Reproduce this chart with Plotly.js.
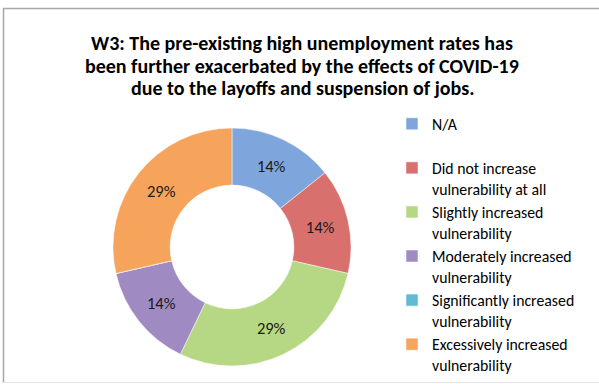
<!DOCTYPE html>
<html>
<head>
<meta charset="utf-8">
<script src="https://cdn.plot.ly/plotly-3.0.1.min.js"></script>
<style>
html,body{margin:0;padding:0;background:#fff;}
#chart{width:599px;height:384px;}
</style>
</head>
<body>
<div id="chart"></div>
<script>
const categories = [
  "N/A",
  "Did not increase<br>vulnerability at all",
  "Slightly increased<br>vulnerability",
  "Moderately increased<br>vulnerability",
  "Significantly increased<br>vulnerability",
  "Excessively increased<br>vulnerability"
];
const counts = [1, 1, 2, 1, 0, 2];
const sliceColors = ["#7ea5dc", "#d8706e", "#b6d783", "#a08ac2", "#5fbcd3", "#f6a35c"];
const titleLines = [
  "W3: The pre-existing high unemployment rates has",
  "been further exacerbated by the effects of COVID-19",
  "due to the layoffs and suspension of jobs."
];

const W = 599, H = 384;
const cx = 232, cy = 247, R = 119;
const FONT = "Carlito, Calibri, Lato, sans-serif";

const legendNames = categories.map(c => c === "N/A" ? "N/A<br>&nbsp;" : c);

const trace = {
  type: "pie",
  labels: legendNames,
  values: counts,
  sort: false,
  direction: "clockwise",
  rotation: 0,
  hole: 0.52,
  marker: {colors: sliceColors, line: {color: "#ffffff", width: 0.5}},
  texttemplate: counts.map(v => v > 0 ? "%{percent:.0%}" : ""),
  textposition: "inside",
  insidetextorientation: "horizontal",
  textfont: {family: FONT, size: 16.5, color: "#1a1a1a"},
  domain: {
    x: [(cx - R) / W, (cx + R) / W],
    y: [(H - cy - R) / H, (H - cy + R) / H]
  },
  hoverinfo: "label+percent"
};

const titleY = [42.5, 65.5, 87.5];
const annotations = titleLines.map((t, i) => ({
  text: "<b>" + t + "</b>",
  xref: "paper", yref: "paper",
  x: 302 / W, xanchor: "center",
  y: 1 - titleY[i] / H, yanchor: "middle",
  height: 21, valign: "middle",
  showarrow: false,
  font: {family: FONT, size: 20, color: "#000000"}
}));

const layout = {
  width: W, height: H,
  margin: {l: 0, r: 0, t: 0, b: 0},
  paper_bgcolor: "#ffffff",
  annotations: annotations,
  showlegend: true,
  legend: {
    x: 392 / W, xanchor: "left",
    y: 1 - 107 / H, yanchor: "top",
    valign: "top",
    font: {family: FONT, size: 15.8, color: "#000000"},
    itemwidth: 30,
    traceorder: "normal",
    bgcolor: "rgba(0,0,0,0)"
  },
  shapes: [
    {type: "line", xref: "paper", yref: "paper", x0: 3 / W, x1: 1, y0: 1 - 8.5 / H, y1: 1 - 8.5 / H, line: {color: "#a6a6a6", width: 1.5}},
    {type: "line", xref: "paper", yref: "paper", x0: 3.5 / W, x1: 3.5 / W, y0: 1 - 8 / H, y1: 1 / H, line: {color: "#a6a6a6", width: 1.5}},
    {type: "line", xref: "paper", yref: "paper", x0: 3 / W, x1: 1, y0: 1.5 / H, y1: 1.5 / H, line: {color: "#e6e6e6", width: 1}}
  ]
};

Plotly.newPlot("chart", [trace], layout, {displayModeBar: false, staticPlot: true});
</script>
</body>
</html>
